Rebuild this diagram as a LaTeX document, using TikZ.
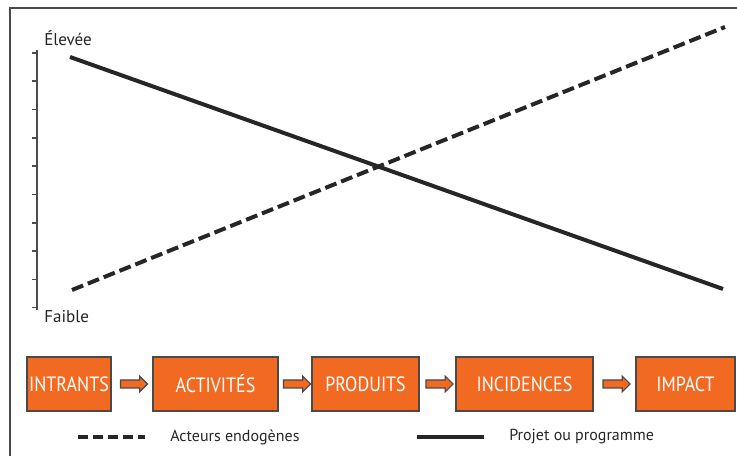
\documentclass[tikz,border=0pt]{standalone}
\usepackage{fontspec}
\setmainfont{PT Sans}
\newfontfamily\etroite[FakeStretch=0.87]{PT Sans}
\usetikzlibrary{shapes.arrows, calc}
\definecolor{orangebox}{HTML}{F26A21}
\definecolor{grisbord}{HTML}{4A4A4A}
\definecolor{noirtrait}{HTML}{262626}

\begin{document}
\begin{tikzpicture}[x=0.75pt, y=0.75pt,
  etape/.style = {draw=grisbord, line width=1pt, fill=orangebox, text=white, inner sep=0pt,
                  minimum height=54*0.75pt, font=\etroite\fontsize{15.5}{15.5}\selectfont},
  fleche/.style = {single arrow, draw=grisbord, line width=0.8pt, fill=orangebox, inner sep=2.6pt,
                   minimum height=27*0.75pt, single arrow head extend=2.8pt},
  legende/.style = {anchor=west, inner sep=0pt, text=noirtrait, font=\fontsize{12}{12}\selectfont},
  niveau/.style = {anchor=west, inner sep=0pt, text=noirtrait, font=\fontsize{12.8}{12.8}\selectfont},
  projet/.style = {draw=noirtrait, line width=3pt},
  acteurs/.style = {draw=noirtrait, line width=3pt, dash pattern=on 9pt off 3.8pt}]
\useasboundingbox (0,0) rectangle (737,456);
\draw[grisbord, line width=1.6pt] (10,0) -- (10,448) -- (737,448);

\draw[gray!60!black, line width=1.2pt] (37,146) -- (37,406);
\foreach \k in {0,...,9}
  \draw[gray!60!black, line width=1.2pt] (32,{403-28.3*\k}) -- (37,{403-28.3*\k});
\node[niveau] (haut) at (44,418) {Élevée};
\node[niveau] (bas) at (44,139) {Faible};

\coordinate (pa) at (70,399);
\coordinate (pb) at (723,167);
\coordinate (da) at (72,166);
\coordinate (db) at (725,429);
\draw[projet] (pa) -- (pb);
\draw[acteurs] (da) -- (db);

\node[etape, minimum width=84*0.75pt] (intr) at (69,72) {INTRANTS};
\node[etape, minimum width=125*0.75pt] (act) at (215.5,72) {ACTIVITÉS};
\node[etape, minimum width=107*0.75pt] (prod) at (365.5,72) {PRODUITS};
\node[etape, minimum width=137*0.75pt] (inc) at (524.5,72) {INCIDENCES};
\node[etape, minimum width=99*0.75pt] (imp) at (685.5,72) {IMPACT};

\node[fleche] (f1) at ($(intr.east)!0.5!(act.west)$) {};
\node[fleche] (f2) at ($(act.east)!0.5!(prod.west)$) {};
\node[fleche] (f3) at ($(prod.east)!0.5!(inc.west)$) {};
\node[fleche] (f4) at ($(inc.east)!0.5!(imp.west)$) {};

\coordinate (la) at (78,19);
\coordinate (lb) at (145,19);
\draw[noirtrait, line width=2.4pt, dash pattern=on 7.5pt off 3.75pt] (la) -- (lb);
\node[legende] (ae) at (170,19) {Acteurs endogènes};
\coordinate (lc) at (417,19);
\coordinate (ld) at (484,19);
\draw[noirtrait, line width=2.4pt] (lc) -- (ld);
\node[legende] (pp) at (509,19) {Projet ou programme};
\end{tikzpicture}
\end{document}
